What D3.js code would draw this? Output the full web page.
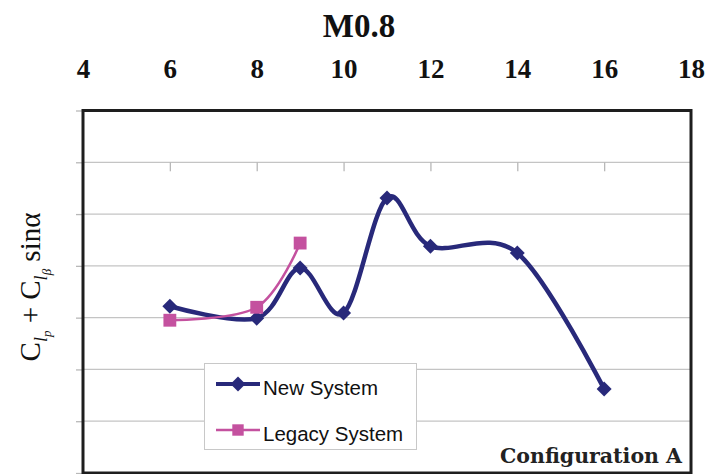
<!DOCTYPE html>
<html>
<head>
<meta charset="utf-8">
<script src="https://cdn.jsdelivr.net/npm/d3@7"></script>
<style>
  body { margin: 0; background: #fff; }
  svg { display: block; }
</style>
</head>
<body>
<svg id="chart" width="707" height="474"></svg>
<script>
// data (y in gridline units, 0 = bottom of plot)
var xTicks = [4, 6, 8, 10, 12, 14, 16, 18];
var newX = [6, 8, 9, 10, 11, 12, 14, 16];
var newY = [3.22, 2.99, 3.96, 3.09, 5.31, 4.38, 4.25, 1.62];
var legacyX = [6, 8, 9];
var legacyY = [2.95, 3.20, 4.44];
var yGrid = [0, 1, 2, 3, 4, 5, 6, 7];
var seriesNames = ["New System", "Legacy System"];

var newColor = "#28297a";
var legacyColor = "#c4519f";

var svg = d3.select("#chart");

// plot box edges (note: "top" is taken by window.top)
var plotLeft = 83, plotRight = 691, plotTop = 110.5, plotBottom = 473;

var x = d3.scaleLinear().domain([4, 18]).range([plotLeft, plotRight]);
var y = d3.scaleLinear().domain([0, 7]).range([plotBottom, plotTop]);

// horizontal gridlines
svg.append("g")
  .selectAll("line")
  .data(yGrid.slice(1, 7))
  .enter().append("line")
  .attr("x1", plotLeft).attr("x2", plotRight)
  .attr("y1", d => y(d)).attr("y2", d => y(d))
  .attr("stroke", "#c4c4c4")
  .attr("stroke-width", 1.3);

// left tick marks
var yAxis = svg.append("g")
  .attr("transform", "translate(" + plotLeft + ",0)")
  .call(d3.axisLeft(y).tickValues(yGrid).tickSize(7).tickFormat(""));
yAxis.select(".domain").remove();
yAxis.selectAll("line").attr("stroke", "#b8b8b8").attr("stroke-width", 1.3);

// category axis crossing at the top gridline, ticks hanging down
var xAxis = svg.append("g")
  .attr("transform", "translate(0," + y(6) + ")")
  .call(d3.axisBottom(x).tickValues(xTicks.slice(1, 7)).tickSize(9).tickFormat(""));
xAxis.select(".domain").remove();
xAxis.selectAll("line").attr("stroke", "#b8b8b8").attr("stroke-width", 1.3);

// tick labels on top
var xLabels = svg.append("g")
  .attr("transform", "translate(0,78)")
  .call(d3.axisTop(x).tickValues(xTicks).tickSize(0).tickPadding(0));
xLabels.select(".domain").remove();
xLabels.selectAll("text")
  .attr("y", 0).attr("dy", 0)
  .style("font-family", "'Liberation Serif', 'Times New Roman', serif")
  .style("font-weight", "bold")
  .style("font-size", "27px")
  .attr("fill", "#111");

// plot border
svg.append("rect")
  .attr("x", plotLeft).attr("y", plotTop)
  .attr("width", plotRight - plotLeft).attr("height", plotBottom - plotTop)
  .attr("fill", "none")
  .attr("stroke", "#1e1e1e")
  .attr("stroke-width", 3);

var line = d3.line()
  .x(d => x(d[0]))
  .y(d => y(d[1]))
  .curve(d3.curveCardinal.tension(0));

var newData = newX.map((d, i) => [d, newY[i]]);
var legacyData = legacyX.map((d, i) => [d, legacyY[i]]);

svg.append("path")
  .datum(newData)
  .attr("fill", "none")
  .attr("stroke", newColor)
  .attr("stroke-width", 4.5)
  .attr("stroke-linejoin", "round")
  .attr("d", line);

svg.append("path")
  .datum(legacyData)
  .attr("fill", "none")
  .attr("stroke", legacyColor)
  .attr("stroke-width", 2.5)
  .attr("d", line);

var diamond = d3.symbol().type(d3.symbolSquare).size(112);
var square = d3.symbol().type(d3.symbolSquare).size(165);

svg.append("g")
  .selectAll("path")
  .data(newData)
  .enter().append("path")
  .attr("d", diamond)
  .attr("transform", d => "translate(" + x(d[0]) + "," + y(d[1]) + ") rotate(45)")
  .attr("fill", newColor);

svg.append("g")
  .selectAll("path")
  .data(legacyData)
  .enter().append("path")
  .attr("d", square)
  .attr("transform", d => "translate(" + x(d[0]) + "," + y(d[1]) + ")")
  .attr("fill", legacyColor);

// legend
var legend = svg.append("g");
legend.append("rect")
  .attr("x", 204.5).attr("y", 363.5)
  .attr("width", 212).attr("height", 86)
  .attr("fill", "#fff")
  .attr("stroke", "#c8c8c8")
  .attr("stroke-width", 1);

var legendRows = [
  { name: seriesNames[0], color: newColor, width: 4, sym: diamond, rot: 45, cy: 384 },
  { name: seriesNames[1], color: legacyColor, width: 2.5, sym: d3.symbol().type(d3.symbolSquare).size(130), rot: 0, cy: 430 }
];
legendRows.forEach(function(r) {
  legend.append("line")
    .attr("x1", 216).attr("x2", 260)
    .attr("y1", r.cy).attr("y2", r.cy)
    .attr("stroke", r.color)
    .attr("stroke-width", r.width);
  legend.append("path")
    .attr("d", r.sym)
    .attr("transform", "translate(238," + r.cy + ") rotate(" + r.rot + ")")
    .attr("fill", r.color);
  legend.append("text")
    .attr("x", 263).attr("y", r.cy + 11)
    .style("font-family", "'Liberation Sans', Arial, sans-serif")
    .style("font-size", "20.5px")
    .attr("fill", "#111")
    .text(r.name);
});

// title
svg.append("text")
  .attr("x", 359).attr("y", 37)
  .attr("text-anchor", "middle")
  .style("font-family", "'Liberation Serif', 'Times New Roman', serif")
  .style("font-weight", "bold")
  .style("font-size", "33px")
  .attr("fill", "#111")
  .text("M0.8");

// configuration note
svg.append("text")
  .attr("x", 682).attr("y", 463)
  .attr("text-anchor", "end")
  .style("font-family", "'DejaVu Serif', serif")
  .style("font-weight", "bold")
  .style("font-size", "20.5px")
  .attr("fill", "#222")
  .text("Configuration A");

// y axis label: C_lp + C_lβ sinα
var yl = svg.append("text")
  .attr("transform", "translate(40,287) rotate(-90)")
  .attr("text-anchor", "middle")
  .style("font-family", "'Liberation Serif', 'Times New Roman', serif")
  .style("font-size", "29px")
  .attr("fill", "#111");
yl.append("tspan").text("C");
yl.append("tspan").attr("dy", 7).style("font-size", "18px").style("font-style", "italic").text("l");
yl.append("tspan").attr("dy", 4).style("font-size", "13px").style("font-style", "italic").text("p");
yl.append("tspan").attr("dy", -11).text(" + C");
yl.append("tspan").attr("dy", 7).style("font-size", "18px").style("font-style", "italic").text("l");
yl.append("tspan").attr("dy", 4).style("font-size", "13px").style("font-style", "italic").text("β");
yl.append("tspan").attr("dy", -11).text(" sinα");
</script>
</body>
</html>
